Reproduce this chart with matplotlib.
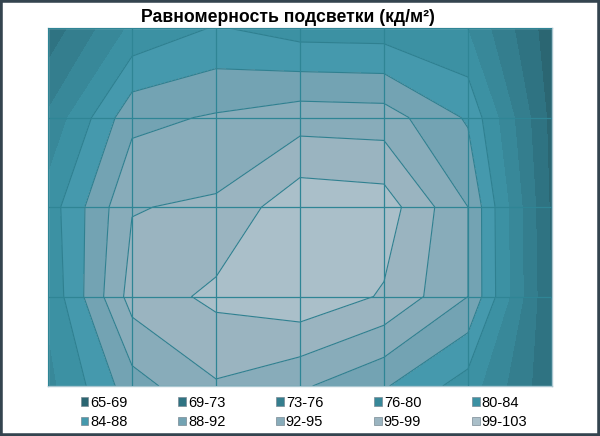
import numpy as np
import matplotlib
matplotlib.use("Agg")
import matplotlib.pyplot as plt
from matplotlib.patches import Patch, Rectangle

plt.rcParams['font.family'] = ['Liberation Sans', 'DejaVu Sans']

# Grid of brightness values (rows top -> bottom, columns left -> right)
cols = np.arange(7)
rows = np.arange(5)
row0 = [70.0, 81.0, 84.3, 82.2, 82.0, 80.0, 66.5]
row1 = [77.0, 90.5, 92.0, 93.7, 93.4, 87.3, 67.5]
row2 = [82.0, 95.2, 96.0, 101.9, 101.2, 91.6, 68.0]
row3 = [81.0, 97.0, 100.1, 102.0, 98.8, 91.6, 68.5]
row4 = [79.0, 90.0, 95.0, 92.2, 88.2, 82.2, 69.5]

levels = [65.0, 68.8, 72.6, 76.4, 80.2, 84.0, 87.8, 91.6, 95.4, 99.2, 103.0]
labels = ["65-69", "69-73", "73-76", "76-80", "80-84",
          "84-88", "88-92", "92-95", "95-99", "99-103"]
band_colors = ["#2B6672", "#2F7382", "#347E8E", "#388899", "#3C91A3",
               "#4599AD", "#73A3B3", "#88ACBA", "#9AB4C0", "#AABFC9"]

Z = np.array([row0, row1, row2, row3, row4])

fig = plt.figure(figsize=(6.0, 4.36), dpi=100)
fig.patch.set_facecolor("white")
ax = fig.add_axes([48/600, 1-386/436, 504/600, 358/436])

ax.contourf(cols, rows, Z, levels=levels, colors=band_colors)
ax.contour(cols, rows, Z, levels=levels[5:10], colors="#2F8090", linewidths=0.8)

ax.set_xlim(0, 6)
ax.set_ylim(4, 0)
ax.set_xticks(cols)
ax.set_yticks(rows)
ax.grid(True, color="#2F8595", linewidth=0.9)
ax.set_axisbelow(False)
ax.tick_params(length=0, labelbottom=False, labelleft=False)
for s in ax.spines.values():
    s.set_color("#A9C6D0")
    s.set_linewidth(1.0)

fig.text(288/600, 1-17/436, "Равномерность подсветки (кд/м²)", ha="center", va="center",
         fontsize=12.7, fontweight="bold", color="black")

handles = [Patch(facecolor=c, edgecolor="#7A8A94", linewidth=0.5) for c in band_colors]
order = [0, 5, 1, 6, 2, 7, 3, 8, 4, 9]
leg = fig.legend([handles[i] for i in order], [labels[i] for i in order],
                 ncol=5, loc="center", bbox_to_anchor=(304/600, 1-412.5/436),
                 frameon=False, fontsize=10.5, handlelength=0.5, handleheight=0.5,
                 handletextpad=0.15, columnspacing=3.5, labelspacing=0.4,
                 borderaxespad=0)

fig.add_artist(Rectangle((0, 0), 1, 1, transform=fig.transFigure, fill=False,
                         edgecolor="#34444F", linewidth=4))

fig.savefig("out.png", dpi=100)
